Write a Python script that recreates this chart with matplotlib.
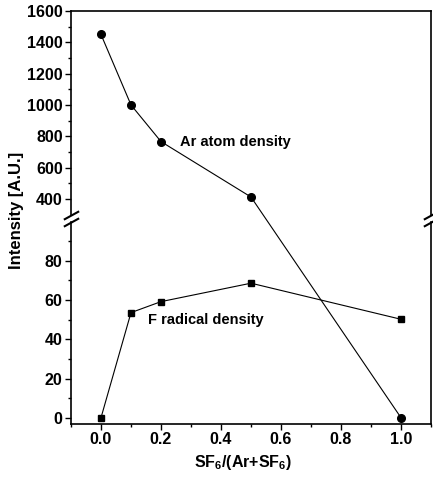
import numpy as np
import matplotlib
matplotlib.use("Agg")
import matplotlib.pyplot as plt
from matplotlib.path import Path

plt.rcParams['font.family'] = ['Liberation Sans', 'DejaVu Sans']
plt.rcParams['font.weight'] = 'bold'
plt.rcParams['mathtext.fontset'] = 'custom'
plt.rcParams['mathtext.rm'] = 'Liberation Sans:bold'
plt.rcParams['mathtext.bf'] = 'Liberation Sans:bold'
plt.rcParams['mathtext.it'] = 'Liberation Sans:bold'

# ---- data ----
x_ratio = [0.0, 0.1, 0.2, 0.5, 1.0]
ar_density = [1450, 1000, 766, 412, 0]
f_density = [0, 53.6, 59.2, 68.6, 50.2]
x_ticks = [0.0, 0.2, 0.4, 0.6, 0.8, 1.0]
y_ticks_low = [0, 20, 40, 60, 80]
y_ticks_high = [400, 600, 800, 1000, 1200, 1400, 1600]

# broken (piecewise-linear) y scale
ys_knots = np.array([-100.0, 100.0, 300.0, 3000.0])
ts_knots = np.array([-196.0, 196.0, 203.05, 203.05 + 2700 * 0.1565])

def fwd(y):
    return np.interp(y, ys_knots, ts_knots)

def inv(t):
    return np.interp(t, ts_knots, ys_knots)

fig = plt.figure(figsize=(4.33, 4.78), dpi=100)
ax = fig.add_axes([71 / 433, 1 - 424 / 478, 360 / 433, 413 / 478])
ax.set_yscale('function', functions=(fwd, inv))

ax.plot(x_ratio, ar_density, color='black', lw=0.8, marker='o', ms=5.5)
ax.plot(x_ratio, f_density, color='black', lw=0.8, marker='s', ms=4.8)

ax.set_xlim(-0.1, 1.1)
ax.set_ylim(-3.2, 1600)
ax.set_xticks(x_ticks)
ax.set_xticklabels([f"{v:.1f}" for v in x_ticks])
ax.set_xticks(np.arange(-0.1, 1.11, 0.1), minor=True)
ax.set_yticks(y_ticks_low + y_ticks_high)
ax.set_yticklabels([str(v) for v in y_ticks_low + y_ticks_high])
ax.set_yticks([10, 30, 50, 70, 90, 500, 700, 900, 1100, 1300, 1500], minor=True)

ax.tick_params(axis='both', which='major', direction='out', length=4, width=1,
               labelsize=11.5, pad=2)
ax.tick_params(axis='both', which='minor', direction='out', length=2, width=1)
ax.tick_params(top=False, right=False)
for lab in ax.get_xticklabels() + ax.get_yticklabels():
    lab.set_fontweight('bold')

# spines with gap
ax.spines['left'].set_visible(False)
ax.spines['right'].set_visible(False)
ax.spines['top'].set_linewidth(1.2)
ax.spines['bottom'].set_linewidth(1.2)
yt = ax.get_yaxis_transform()
for xa in (0, 1):
    ax.plot([xa, xa], [-3.2, 100], transform=yt, color='black', lw=1.2, clip_on=False)
    ax.plot([xa, xa], [300, 1600], transform=yt, color='black', lw=1.2, clip_on=False)
slash = Path([(-1, -0.55), (1, 0.55)], [Path.MOVETO, Path.LINETO])
ax.plot([0, 0, 1, 1], [100, 300, 100, 300], transform=yt, linestyle='none',
        marker=slash, ms=11, mew=1.5, color='black', clip_on=False)

ax.text(0.265, 766, 'Ar atom density', fontsize=10.5, fontweight='bold',
        va='center', ha='left')
ax.text(0.158, 50, 'F radical density', fontsize=10.5, fontweight='bold',
        va='center', ha='left')

ax.set_ylabel('Intensity [A.U.]', fontsize=12, fontweight='bold')
ax.yaxis.set_label_coords(-0.15, 0.516)
ax.yaxis.label.set_va('center')
ax.set_xlabel(r'SF$_{6}$/(Ar+SF$_{6}$)', fontsize=11.5, fontweight='bold')
ax.xaxis.set_label_coords(0.478, -0.094)
ax.xaxis.label.set_va('center')

fig.savefig('out.png', dpi=100)
